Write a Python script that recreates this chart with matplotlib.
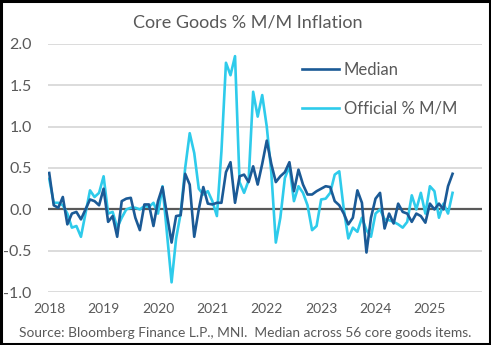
import matplotlib
matplotlib.use("Agg")
import matplotlib.pyplot as plt
from matplotlib.patches import Rectangle

years = ["2018", "2019", "2020", "2021", "2022", "2023", "2024", "2025"]

median = [0.44, 0.05, 0.02, 0.15, -0.18, -0.05, -0.03, -0.12, 0.0, 0.12, 0.10, 0.05,
          0.25, -0.15, -0.08, -0.33, 0.10, 0.13, 0.14, -0.10, -0.25, 0.06, 0.06, -0.20,
          0.10, 0.27, -0.07, -0.40, -0.08, -0.07, 0.43, 0.30, -0.33, 0.00, 0.27, 0.07,
          0.06, 0.08, 0.08, 0.45, 0.57, 0.08, 0.40, 0.42, 0.33, 0.52, 0.30, 0.55,
          0.83, 0.55, 0.33, 0.40, 0.45, 0.57, 0.22, 0.48, 0.30, 0.18, 0.18, 0.22,
          0.25, 0.28, 0.27, 0.10, 0.05, -0.05, -0.18, -0.10, 0.23, 0.08, -0.52, -0.10,
          0.13, 0.20, -0.23, -0.05, -0.17, 0.07, -0.03, -0.05, -0.15, -0.05, -0.08, -0.16,
          0.07, 0.00, 0.07, 0.00, 0.28, 0.43]

official = [0.37, 0.08, 0.08, 0.05, -0.05, -0.22, -0.20, -0.33, -0.05, 0.23, 0.15, 0.20,
            0.40, -0.05, -0.03, -0.22, -0.10, 0.00, 0.02, 0.02, 0.00, 0.04, 0.03, 0.08,
            -0.05, 0.28, -0.30, -0.88, -0.35, -0.05, 0.50, 0.92, 0.68, 0.25, 0.18, 0.22,
            0.10, -0.08, 0.70, 1.77, 1.62, 1.85, 0.33, 0.20, 0.35, 1.42, 1.12, 1.38,
            1.00, 0.45, -0.40, -0.10, 0.38, 0.52, 0.10, 0.28, 0.20, 0.05, -0.25, -0.20,
            0.12, 0.13, 0.20, 0.42, 0.46, 0.00, -0.35, -0.22, -0.27, -0.10, -0.25, -0.33,
            -0.05, 0.00, -0.12, -0.13, -0.15, -0.18, -0.22, -0.15, 0.17, 0.00, 0.20, -0.05,
            0.28, 0.22, -0.10, 0.07, -0.05, 0.20]

months = list(range(len(median)))

plt.rcParams['font.family'] = ['Lato', 'DejaVu Sans']
gray = '#595959'

fig = plt.figure(figsize=(4.91, 3.45), dpi=100)
ax = fig.add_axes([0.0984, 0.1528, 0.8833, 0.7205])

for v in [-1.0, -0.5, 0.5, 1.0, 1.5, 2.0]:
    ax.axhline(v, color='#D9D9D9', lw=1.3, zorder=1)
ax.axhline(0, color=gray, lw=1.6, zorder=2)

ax.plot(months, median, color='#1B5A96', lw=1.9, label='Median', zorder=4)
ax.plot(months, official, color='#2ECBEB', lw=1.9, label='Official % M/M', zorder=3)

ax.set_xlim(-0.2, 95.5)
ax.set_ylim(-1.0, 2.0)
ax.set_yticks([-1.0, -0.5, 0.0, 0.5, 1.0, 1.5, 2.0])
ax.set_yticklabels([f"{v:.1f}" for v in [-1.0, -0.5, 0.0, 0.5, 1.0, 1.5, 2.0]])
ax.set_xticks([12 * i for i in range(len(years))])
ax.set_xticklabels(years)
ax.tick_params(axis='y', length=0, pad=12, labelsize=11.5, labelcolor=gray)
ax.tick_params(axis='x', length=0, pad=8, labelsize=10, labelcolor=gray)
for s in ax.spines.values():
    s.set_visible(False)

leg = ax.legend(loc='upper left', bbox_to_anchor=(0.55, 0.986), frameon=False,
                fontsize=12, handlelength=2.2, handletextpad=0.3, labelspacing=1.34,
                labelcolor=gray)

fig.text(0.505, 0.935, "Core Goods % M/M Inflation", ha='center', va='center',
         fontsize=13, color=gray)
fig.text(0.5, 0.036, "Source: Bloomberg Finance L.P., MNI.  Median across 56 core goods items.",
         ha='center', va='center', fontsize=9.9, color=gray)

fig.patches.append(Rectangle((0.002, 0.003), 0.996, 0.994, transform=fig.transFigure,
                             fill=False, edgecolor='black', lw=2.2))

fig.savefig("out.png", dpi=100)
